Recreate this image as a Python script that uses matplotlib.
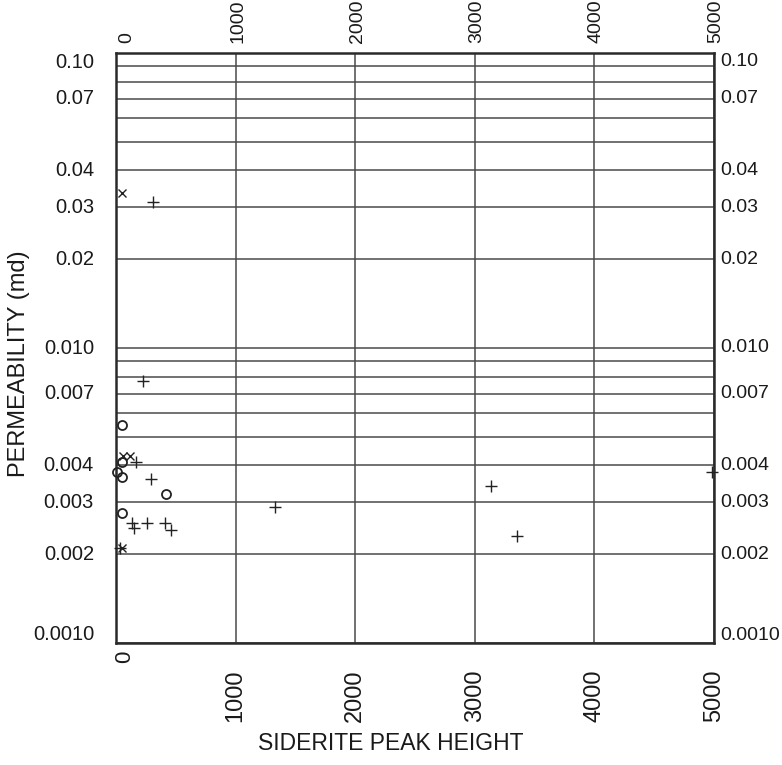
import matplotlib
matplotlib.use("Agg")
import matplotlib.pyplot as plt
from matplotlib.ticker import LogLocator, NullFormatter

# Siderite peak height vs. permeability, three sample groups
plus_x = [312, 228, 295, 169, 135, 152, 261, 413, 464, 1332, 3137, 3356, 4983, 30]
plus_y = [0.0313, 0.0077, 0.0036, 0.0041, 0.00255, 0.00245, 0.00255, 0.00255,
          0.00242, 0.0029, 0.0034, 0.0023, 0.0038, 0.0021]
cross_x = [53, 62, 118, 50]
cross_y = [0.0335, 0.0043, 0.0043, 0.0021]
circle_x = [50, 50, 50, 10, 422, 50]
circle_y = [0.0055, 0.0041, 0.00365, 0.0038, 0.0032, 0.00276]

x_ticks = [0, 1000, 2000, 3000, 4000, 5000]
x_labels = ["0", "1000", "2000", "3000", "4000", "5000"]
y_ticks = [0.001, 0.002, 0.003, 0.004, 0.007, 0.01, 0.02, 0.03, 0.04, 0.07, 0.1]
y_labels = ["0.0010", "0.002", "0.003", "0.004", "0.007", "0.010",
            "0.02", "0.03", "0.04", "0.07", "0.10"]

plt.rcParams["font.family"] = ["Liberation Sans", "DejaVu Sans"]

fig = plt.figure(figsize=(7.82, 7.65), dpi=100)
ax = fig.add_axes([116 / 782, 1 - 643 / 765, 598 / 782, 590 / 765])

ax.set_yscale("log")
ax.set_xlim(0, 5000)
ax.set_ylim(0.001, 0.1)

# grid: every 1000 on x, every 1..9 multiple on the log y axis
ax.set_xticks(x_ticks)
ax.yaxis.set_major_locator(LogLocator(base=10, subs=range(1, 10)))
ax.yaxis.set_minor_locator(LogLocator(base=10, subs=[]))
ax.yaxis.set_major_formatter(NullFormatter())
ax.yaxis.set_minor_formatter(NullFormatter())
ax.set_xticklabels([])
ax.tick_params(which="both", length=0)
ax.grid(True, which="major", axis="both", color="#4a4a4a", linewidth=1.1)
ax.set_axisbelow(True)
for sp in ax.spines.values():
    sp.set_color("#2a2a2a")
    sp.set_linewidth(1.8)

# data markers
mk = dict(linestyle="none", color="#222222", zorder=3, clip_on=False)
ax.plot(plus_x, plus_y, marker="+", markersize=8.5, markeredgewidth=1.0, **mk)
ax.plot(cross_x, cross_y, marker="x", markersize=6, markeredgewidth=1.0, **mk)
ax.plot(circle_x, circle_y, marker="o", markersize=6.5, markeredgewidth=1.3,
        markerfacecolor="none", **mk)

# y tick labels on both sides
ytr = ax.get_yaxis_transform()
for v, s in zip(y_ticks, y_labels):
    va = "center"
    dy = 0
    if v == y_ticks[-1]:
        va, dy = "top", 0
    elif v == y_ticks[0]:
        va, dy = "bottom", -1
    ax.annotate(s, (0, v), xycoords=ytr, xytext=(-22, dy), textcoords="offset pixels",
                ha="right", va=va, fontsize=14.5, color="#1a1a1a")
    ax.annotate(s, (1, v), xycoords=ytr, xytext=(6, dy), textcoords="offset pixels",
                ha="left", va=va, fontsize=14, color="#1a1a1a")

# x tick labels, rotated, top and bottom
xtr = ax.get_xaxis_transform()
for v, s in zip(x_ticks, x_labels):
    if v == x_ticks[0]:
        ax.annotate(s, (v, 1), xycoords=xtr, xytext=(2, 10), textcoords="offset pixels",
                    ha="left", va="bottom", rotation=90, fontsize=14, color="#1a1a1a")
        ax.annotate(s, (v, 0), xycoords=xtr, xytext=(-2, -8), textcoords="offset pixels",
                    ha="left", va="top", rotation=90, fontsize=16, color="#1a1a1a")
    else:
        ax.annotate(s, (v, 1), xycoords=xtr, xytext=(2, 10), textcoords="offset pixels",
                    ha="center", va="bottom", rotation=90, fontsize=14, color="#1a1a1a")
        ax.annotate(s, (v, 0), xycoords=xtr, xytext=(0, -27), textcoords="offset pixels",
                    ha="center", va="top", rotation=90, fontsize=17, color="#1a1a1a")

fig.text(19 / 782, 1 - 364 / 765, "PERMEABILITY (md)", rotation=90,
         ha="center", va="center", fontsize=17, color="#1a1a1a")
fig.text(391 / 782, 1 - 743 / 765, "SIDERITE PEAK HEIGHT",
         ha="center", va="center", fontsize=16.5, color="#1a1a1a")

fig.savefig("out.png", dpi=100, facecolor="white")
